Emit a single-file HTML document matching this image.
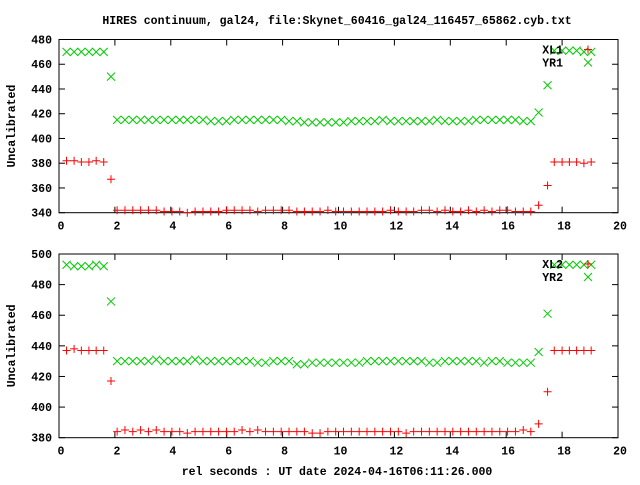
<!DOCTYPE html>
<html><head><meta charset="utf-8">
<style>
html,body{margin:0;padding:0;background:#fff;}
svg text{font-family:"Liberation Mono","DejaVu Sans Mono",monospace;font-weight:bold;font-size:11.5px;fill:#000;}
</style></head>
<body>
<svg id="chart" width="640" height="480" xmlns="http://www.w3.org/2000/svg">
<text x="337" y="24" text-anchor="middle">HIRES continuum, gal24, file:Skynet_60416_gal24_116457_65862.cyb.txt</text>
<text x="337" y="475" text-anchor="middle">rel seconds : UT date 2024-04-16T06:11:26.000</text>
</svg>
<script>
const xTicks=[0,2,4,6,8,10,12,14,16,18,20];
const yTicksTop=[340,360,380,400,420,440,460,480];
const yTicksBot=[380,400,420,440,460,480,500];
const times=[0.27,0.54,0.80,1.07,1.33,1.60,1.86,
2.08,2.36,2.64,2.92,3.20,3.48,3.76,4.04,4.32,4.59,4.87,5.15,5.43,5.71,5.99,6.27,6.55,6.83,7.11,7.39,7.67,7.95,8.23,8.51,8.78,9.06,9.34,9.62,9.90,10.18,10.46,10.74,11.02,11.30,11.58,11.86,12.14,12.42,12.69,12.97,13.25,13.53,13.81,14.09,14.37,14.65,14.93,15.21,15.49,15.77,16.05,16.33,16.61,16.88,17.16,
17.48,17.72,18.00,18.26,18.52,18.78,19.04,19.30];
const xl1=[382,382,381,381,382,381,367,
342,342,342,342,342,342,341,341,341,340,341,341,341,341,342,342,342,342,341,342,342,342,342,341,341,341,341,342,341,341,341,341,341,341,341,342,341,341,341,342,342,341,342,341,341,342,341,342,341,342,342,341,341,341,
346,362,381,381,381,381,380,381];
const yr1=[470,470,470,470,470,470,450,
415,415,415,415,415,415,415,415,415,415,415,415,414,414,414,415,415,415,415,415,415,415,414,414,413,413,413,413,413,413,414,414,414,414,415,414,414,414,414,414,414,415,414,414,414,414,415,415,415,415,415,415,414,414,
421,443,471,471,471,471,470,470];
const xl2=[437,438,437,437,437,437,417,
384,385,384,385,384,385,384,384,384,383,384,384,384,384,384,384,385,384,385,384,384,384,384,384,384,383,383,384,384,384,384,384,384,384,384,384,384,383,384,384,384,384,384,384,384,384,384,384,384,384,384,384,385,384,
389,410,437,437,437,437,437,437];
const yr2=[493,492,492,492,493,492,469,
430,430,430,430,430,431,430,430,430,430,431,430,430,430,430,430,430,430,429,429,430,430,430,428,428,429,429,429,429,429,429,429,430,430,430,430,430,430,430,430,429,429,430,430,430,430,430,429,430,430,429,429,429,429,
436,461,493,493,493,493,493,493];

const svg=document.getElementById('chart');
const NS='http://www.w3.org/2000/svg';
function mk(tag,attrs,parent){const e=document.createElementNS(NS,tag);for(const k in attrs)e.setAttribute(k,attrs[k]);(parent||svg).appendChild(e);return e;}

function panel(name,top,bottom,ymin,ymax,yticks,reds,greens,labR,labG){
  const L=59,R=618;
  const g=mk('g',{});
  
  
  const sx=v=>L+(v-0)/(20-0)*(R-L);
  const sy=v=>bottom-(v-ymin)/(ymax-ymin)*(bottom-top);
  const frame=mk('rect',{x:L,y:top,width:R-L,height:bottom-top,fill:'none',stroke:'#000','stroke-width':1},g);
  
  
  xTicks.forEach(v=>{
    const x=sx(v);
    mk('line',{x1:x,y1:bottom,x2:x,y2:bottom-6,stroke:'#000'},g);
    mk('line',{x1:x,y1:top,x2:x,y2:top+6,stroke:'#000'},g);
    const t=mk('text',{x:x+2,y:bottom+17,'text-anchor':'middle'},g);
    t.textContent=v;
    
    
  });
  yticks.forEach(v=>{
    const y=sy(v);
    mk('line',{x1:L,y1:y,x2:L+6,y2:y,stroke:'#000'},g);
    mk('line',{x1:R,y1:y,x2:R-6,y2:y,stroke:'#000'},g);
    const t=mk('text',{x:L-7,y:y+4,'text-anchor':'end'},g);
    t.textContent=v;
    
    
  });
  const yl=mk('text',{x:0,y:0,'text-anchor':'middle',transform:`translate(15,${(top+bottom)/2}) rotate(-90)`},g);
  yl.textContent='Uncalibrated';
  
  
  const plus=(x,y,par)=>{mk('path',{d:`M${x-4},${y}h8M${x},${y-4}v8`,stroke:'#f00','stroke-width':1,fill:'none'},par);};
  const cross=(x,y,par)=>{mk('path',{d:`M${x-4},${y-4}l8,8M${x-4},${y+4}l8,-8`,stroke:'#0c0','stroke-width':1,fill:'none'},par);};
  const gs=mk('g',{},g);
  
  
  greens.forEach((v,i)=>cross(sx(times[i]),sy(v),gs));
  const rs=mk('g',{},g);
  
  
  reds.forEach((v,i)=>plus(sx(times[i]),sy(v),rs));
  const lg=mk('g',{},g);
  
  
  const t1=mk('text',{x:563,y:top+14,'text-anchor':'end'},lg);t1.textContent=labR;
  const t2=mk('text',{x:563,y:top+27,'text-anchor':'end'},lg);t2.textContent=labG;
  plus(588,top+10,lg);cross(588,top+23,lg);
}
panel('top-panel',39.5,212.7,340,480,yTicksTop,xl1,yr1,'XL1','YR1');
panel('bottom-panel',254,437.7,380,500,yTicksBot,xl2,yr2,'XL2','YR2');
</script>
</body></html>
